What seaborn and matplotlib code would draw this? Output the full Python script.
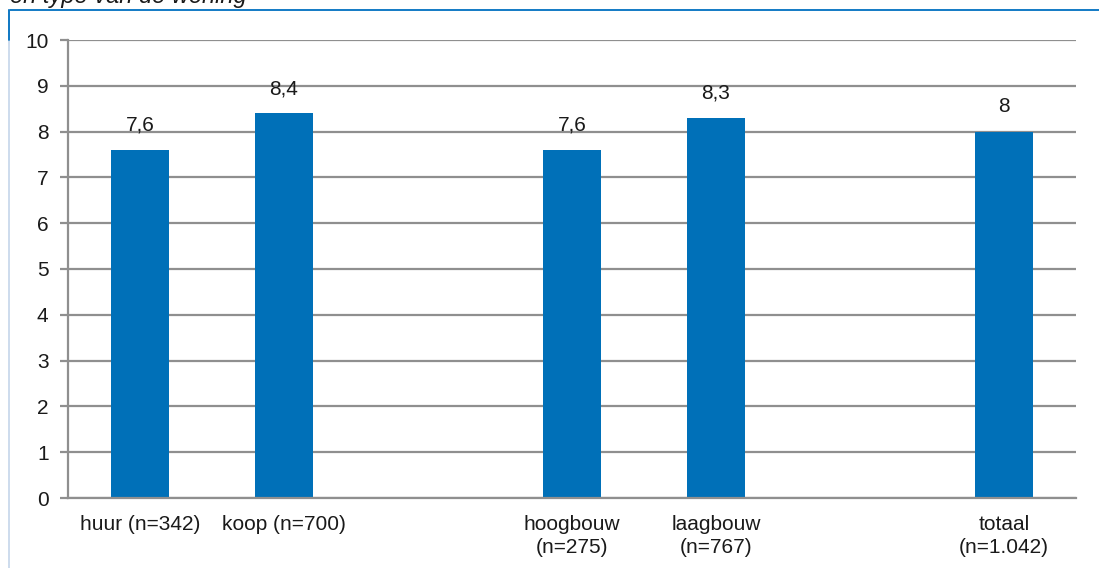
import matplotlib
matplotlib.use("Agg")
import matplotlib.pyplot as plt
import seaborn as sns
import pandas as pd
import numpy as np
from matplotlib.lines import Line2D

categories = ["huur (n=342)", "koop (n=700)", "hoogbouw\n(n=275)", "laagbouw\n(n=767)", "totaal\n(n=1.042)"]
values = [7.6, 8.4, 7.6, 8.3, 8.0]
slot_order = ["huur (n=342)", "koop (n=700)", " ", "hoogbouw\n(n=275)", "laagbouw\n(n=767)", "  ", "totaal\n(n=1.042)"]
y_ticks = list(range(0, 11))
title_text = "en type van de woning"

sns.set_theme(style="white")
plt.rcParams['font.family'] = ['Liberation Sans', 'DejaVu Sans']

df = pd.DataFrame({"cat": categories, "val": values})

fig = plt.figure(figsize=(10.99, 5.68), dpi=100)
W, H = 1099, 568
ax = fig.add_axes([68 / W, 1 - 498 / H, (1076 - 68) / W, (498 - 40) / H])

bar_color = "#0070B8"
sns.barplot(data=df, x="cat", y="val", order=slot_order, color=bar_color,
            width=0.4, saturation=1, linewidth=0, ax=ax, zorder=3)

ax.set_xlim(-0.5, len(slot_order) - 0.5)
ax.set_ylim(0, 10)
ax.set_xlabel("")
ax.set_ylabel("")

fs = 15
grid_c = "#8f8f8f"
ax.set_yticks(y_ticks)
ax.set_yticklabels([str(t) for t in y_ticks], fontsize=fs, color="#1a1a1a")
ax.yaxis.grid(True, color=grid_c, linewidth=1.6, zorder=0)
ax.set_axisbelow(True)

# ticks at slot boundaries, labels at slot centers
ax.set_xticks(np.arange(-0.5, len(slot_order), 1.0))
ax.set_xticklabels([])
ax.set_xticks(np.arange(len(slot_order)), minor=True)
ax.set_xticklabels(slot_order, minor=True, fontsize=fs, color="#1a1a1a",
                   va="top", ha="center", linespacing=1.3)
ax.tick_params(axis="x", which="major", length=6, width=1.6, color=grid_c, direction="out")
ax.tick_params(axis="x", which="minor", length=0, pad=12)
ax.tick_params(axis="y", which="major", length=6, width=1.6, color=grid_c, direction="out", pad=8, left=True)

for s in ["top", "right"]:
    ax.spines[s].set_visible(False)
for s in ["left", "bottom"]:
    ax.spines[s].set_color(grid_c)
    ax.spines[s].set_linewidth(1.6)
    ax.spines[s].set_zorder(4)

# value labels
for cat, v in zip(categories, values):
    xi = slot_order.index(cat)
    lbl = f"{v:g}".replace(".", ",")
    ax.annotate(lbl, (xi, v), xytext=(0, 11), textcoords="offset points",
                ha="center", va="bottom", fontsize=fs, color="#1a1a1a")

# frame lines
fig.add_artist(Line2D([8.5 / W, 1], [1 - 10 / H, 1 - 10 / H], transform=fig.transFigure,
                      color="#0070C0", linewidth=1.3))
fig.add_artist(Line2D([8.5 / W, 8.5 / W], [0, 1 - 10 / H], transform=fig.transFigure,
                      color="#c9d9ec", linewidth=1.3))
fig.add_artist(Line2D([8.5 / W, 8.5 / W], [1 - 40 / H, 1 - 10 / H], transform=fig.transFigure,
                      color="#0070C0", linewidth=1.3))

fig.text(10 / W, 1 - 3 / H, title_text, fontsize=17, style="italic", color="#1a1a1a",
         ha="left", va="baseline")

fig.savefig("out.png", dpi=100)
